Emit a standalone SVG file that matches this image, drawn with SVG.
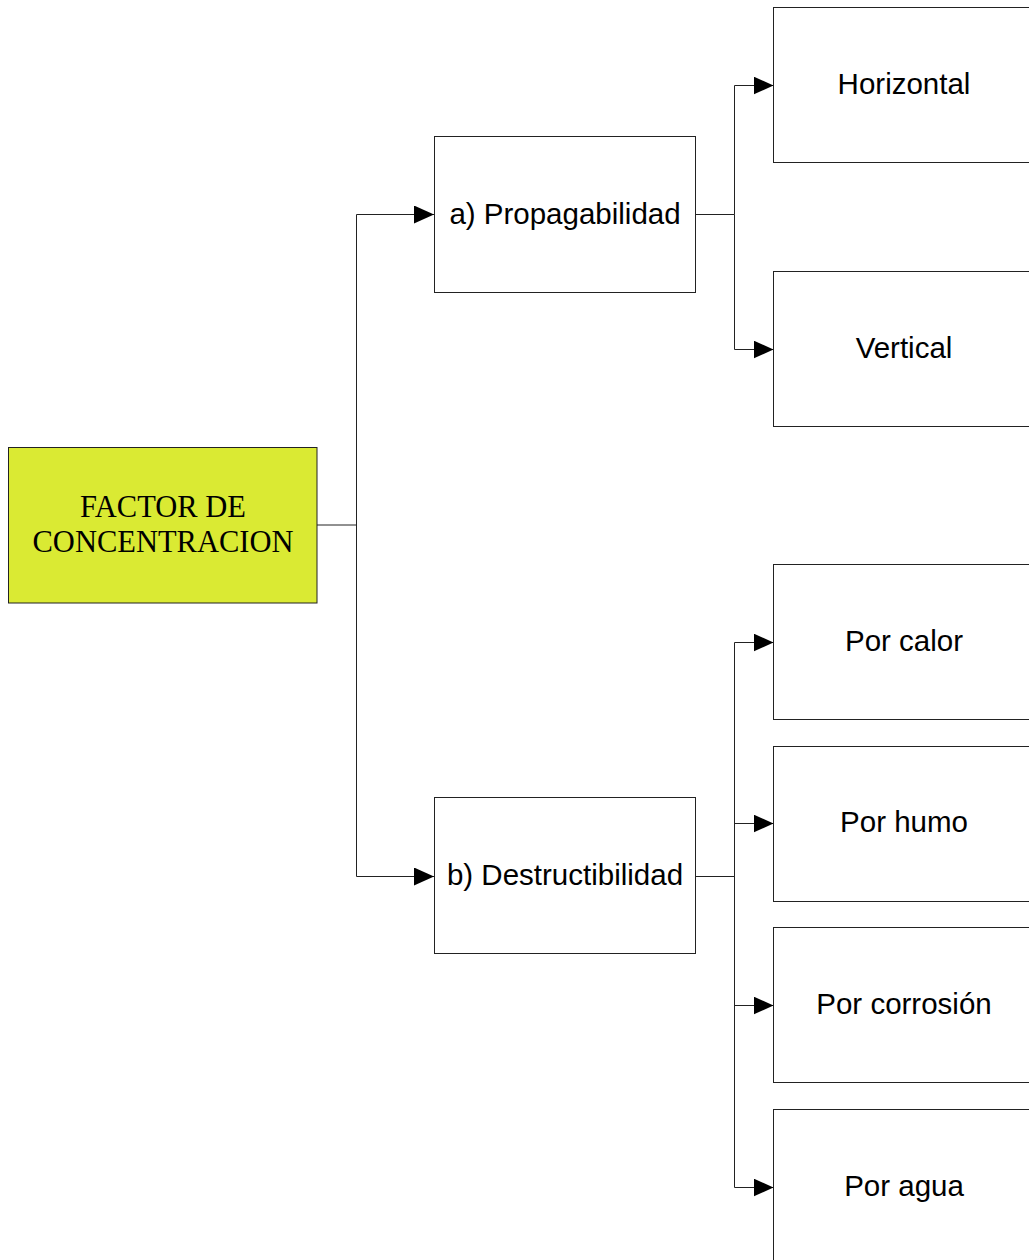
<svg xmlns="http://www.w3.org/2000/svg" width="1029" height="1260" viewBox="0 0 1029 1260">
<style>
.box{fill:#fff;stroke:#222;stroke-width:1}
.root{fill:#DAEA33;stroke:#222;stroke-width:1}
.t{font-family:"Liberation Sans",Arial,sans-serif;font-size:29.5px;fill:#000;text-anchor:middle}
.s{font-family:"Liberation Serif","Times New Roman",serif;font-size:30.5px;fill:#000;text-anchor:middle}
.c{fill:none;stroke:#222;stroke-width:1}
</style>
<defs>
<marker id="ah" markerWidth="20" markerHeight="18" refX="20" refY="9" orient="auto" markerUnits="userSpaceOnUse">
<path d="M0,0 L20,9 L0,18 Z" fill="#000"/>
</marker>
</defs>
<rect width="1029" height="1260" fill="#fff"/>
<g id="connectors">
<polyline class="c" points="317,525 356.5,525"/>
<polyline class="c" points="356.5,525 356.5,214.5 434,214.5" marker-end="url(#ah)"/>
<polyline class="c" points="356.5,525 356.5,876.5 434,876.5" marker-end="url(#ah)"/>
<polyline class="c" points="695.5,214.5 734.5,214.5"/>
<polyline class="c" points="734.5,214.5 734.5,85.5 773.5,85.5" marker-end="url(#ah)"/>
<polyline class="c" points="734.5,214.5 734.5,349.5 773.5,349.5" marker-end="url(#ah)"/>
<polyline class="c" points="695.5,876.5 734.5,876.5"/>
<polyline class="c" points="734.5,876.5 734.5,642.5 773.5,642.5" marker-end="url(#ah)"/>
<polyline class="c" points="734.5,876.5 734.5,823.5 773.5,823.5" marker-end="url(#ah)"/>
<polyline class="c" points="734.5,876.5 734.5,1005.5 773.5,1005.5" marker-end="url(#ah)"/>
<polyline class="c" points="734.5,876.5 734.5,1187.5 773.5,1187.5" marker-end="url(#ah)"/>
</g>
<g id="root">
<rect class="root" x="8.5" y="447.5" width="308.5" height="155.5"/>
<text class="s" x="163" y="517">FACTOR DE</text>
<text class="s" x="163" y="552">CONCENTRACION</text>
</g>
<g id="propagabilidad">
<rect class="box" x="434.5" y="136.5" width="261" height="156"/>
<text class="t" x="565" y="224">a) Propagabilidad</text>
</g>
<g id="destructibilidad">
<rect class="box" x="434.5" y="797.5" width="261" height="156"/>
<text class="t" x="565" y="885">b) Destructibilidad</text>
</g>
<g id="horizontal">
<rect class="box" x="773.5" y="7.5" width="261" height="155"/>
<text class="t" x="904" y="94">Horizontal</text>
</g>
<g id="vertical">
<rect class="box" x="773.5" y="271.5" width="261" height="155"/>
<text class="t" x="904" y="358">Vertical</text>
</g>
<g id="calor">
<rect class="box" x="773.5" y="564.5" width="261" height="155"/>
<text class="t" x="904" y="651">Por calor</text>
</g>
<g id="humo">
<rect class="box" x="773.5" y="746.5" width="261" height="155"/>
<text class="t" x="904" y="832">Por humo</text>
</g>
<g id="corrosion">
<rect class="box" x="773.5" y="927.5" width="261" height="155"/>
<text class="t" x="904" y="1014">Por corrosión</text>
</g>
<g id="agua">
<rect class="box" x="773.5" y="1109.5" width="261" height="155"/>
<text class="t" x="904" y="1196">Por agua</text>
</g>
</svg>
